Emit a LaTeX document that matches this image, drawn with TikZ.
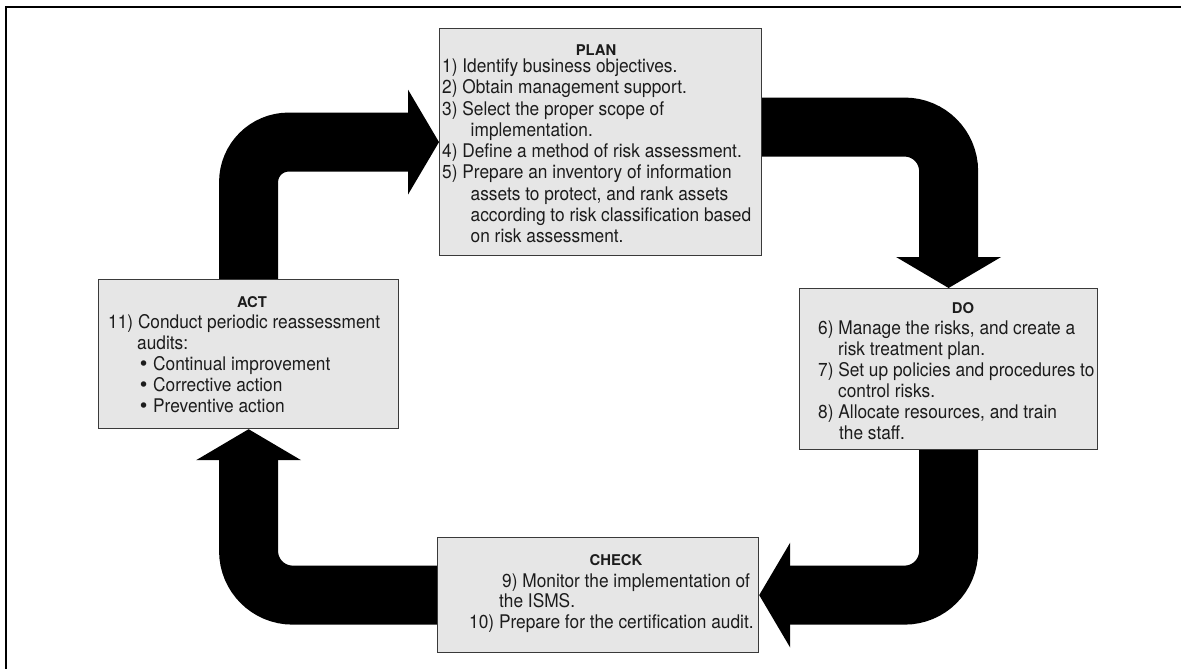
\documentclass[tikz,border=0pt]{standalone}
\usepackage{fontspec}
\setmainfont{TeX Gyre Heros}[FakeStretch=0.92]
\newfontfamily\headfont{TeX Gyre Heros}
\newfontfamily\bulletfont{DejaVu Sans}
\usetikzlibrary{arrows.meta,backgrounds}
\definecolor{boxfill}{HTML}{E6E6E6}
\definecolor{boxline}{HTML}{3A3A3A}
\definecolor{ink}{HTML}{1C1C1C}
% stack of lines whose baseline is the first line's baseline
\newcommand\txtstack[2]{\vtop{\baselineskip=#1pt\lineskiplimit=-100pt\lineskip=0pt #2}}
\newcommand\rowtxt[2][0]{\hbox{\hspace*{#1pt}#2}}
\newcommand\bul{\makebox[15pt][l]{\bulletfont •}}
\tikzset{
  stagebox/.style={draw=boxline, line width=1.2pt, fill=boxfill, inner sep=0pt, anchor=north west},
  stagetitle/.style={font=\headfont\bfseries\fontsize{14.8}{16}\selectfont, text=ink, inner sep=0pt, anchor=base},
  stagetext/.style={font=\fontsize{18.8}{20.8}\selectfont, text=ink, inner sep=0pt, anchor=base west},
  fatarrow/.style={line width=59pt, black,
    -{Triangle[width=105pt,length=31pt,line width=0pt]}, rounded corners=#1},
  fatarrow/.default=44pt
}
\begin{document}
\begin{tikzpicture}[x=1pt, y=-1pt]
\useasboundingbox (0,0) rectangle (1181,669);
% page rule along the top and left edges
\draw[line width=2pt, black] (6,669) -- (6,7) -- (1181,7);

% the four stages
\node[stagebox, minimum width=322pt, minimum height=227pt] (plan)  at (439,28)  {};
\node[stagebox, minimum width=298pt, minimum height=161pt] (do)    at (799,288) {};
\node[stagebox, minimum width=300pt, minimum height=149pt] (act)   at (98,279)  {};
\node[stagebox, minimum width=321pt, minimum height=115pt] (check) at (437,537) {};

% the cycle arrows, behind the boxes
\begin{pgfonlayer}{background}
  \draw[fatarrow=40pt] (act.north) |- (plan.west);
  \draw[fatarrow] ([yshift=15pt]plan.east) -| (do.north);
  \draw[fatarrow] (do.south) |- (check.east);
  \draw[fatarrow] (check.west) -| (act.south);
\end{pgfonlayer}

% PLAN
\node[stagetitle] (plantitle) at (596,56) {PLAN};
\node[stagetext] (plantext) at (442,72.5) {\txtstack{21.3}{%
  \rowtxt{1) Identify business objectives.}
  \rowtxt{2) Obtain management support.}
  \rowtxt{3) Select the proper scope of}
  \rowtxt[28.5]{implementation.}
  \rowtxt{4) Define a method of risk assessment.}
  \rowtxt{5) Prepare an inventory of information}
  \rowtxt[28.5]{assets to protect, and rank assets}
  \rowtxt[28.5]{according to risk classification based}
  \rowtxt[28.5]{on risk assessment.}}};

% DO
\node[stagetitle] (dotitle) at (963,313) {DO};
\node[stagetext] (dotext) at (818,334) {\txtstack{21}{%
  \rowtxt{6) Manage the risks, and create a}
  \rowtxt[20]{risk treatment plan.}
  \rowtxt{7) Set up policies and procedures to}
  \rowtxt[20]{control risks.}
  \rowtxt{8) Allocate resources, and train}
  \rowtxt[21]{the staff.}}};

% ACT
\node[stagetitle] (acttitle) at (252,307) {ACT};
\node[stagetext] (acttext) at (108,328) {\txtstack{21.2}{%
  \rowtxt{11) Conduct periodic reassessment}
  \rowtxt[29]{audits:}
  \rowtxt[30]{\bul Continual improvement}
  \rowtxt[30]{\bul Corrective action}
  \rowtxt[30]{\bul Preventive action}}};

% CHECK
\node[stagetitle] (checktitle) at (616,565) {CHECK};
\node[stagetext] (checktext) at (469,587) {\txtstack{20.6}{%
  \rowtxt[33]{9) Monitor the implementation of}
  \rowtxt[30]{the ISMS.}
  \rowtxt{10) Prepare for the certification audit.}}};
\end{tikzpicture}
\end{document}
